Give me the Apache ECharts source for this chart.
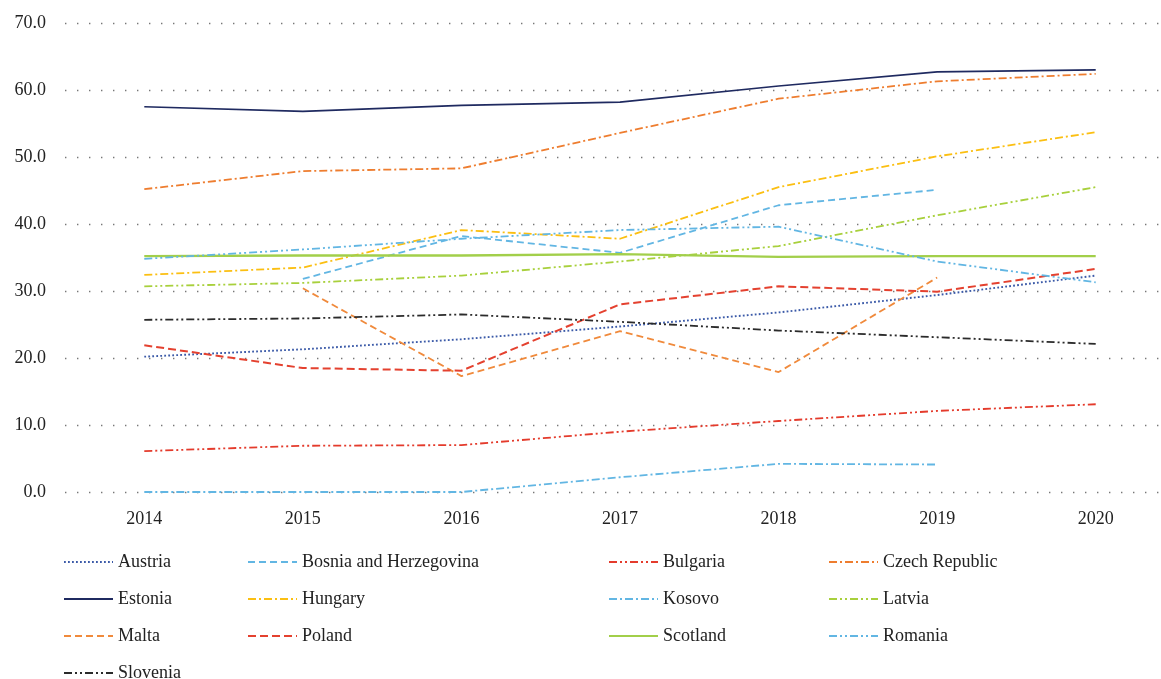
<!DOCTYPE html>
<html>
<head>
<meta charset="utf-8">
<script src="https://cdn.jsdelivr.net/npm/echarts@6/dist/echarts.min.js"></script>
<style>
  html, body { margin: 0; padding: 0; background: #fff; }
  #chart { width: 1161px; height: 679px; }
</style>
</head>
<body>
<div id="chart"></div>
<script>
// years on the x axis
var years = ['2014', '2015', '2016', '2017', '2018', '2019', '2020'];

// values (null = no point that year)
var austria  = [20.2, 21.3, 22.8, 24.7, 26.8, 29.4, 32.3];
var bosnia   = [null, 31.8, 38.2, 35.7, 42.8, 45.1, null];
var bulgaria = [6.1, 6.9, 7.0, 9.0, 10.6, 12.1, 13.1];
var czech    = [45.2, 47.9, 48.3, 53.6, 58.7, 61.3, 62.4];
var estonia  = [57.5, 56.8, 57.7, 58.2, 60.6, 62.7, 63.0];
var hungary  = [32.4, 33.5, 39.1, 37.8, 45.5, 50.1, 53.7];
var kosovo   = [0.0, 0.0, 0.0, 2.2, 4.2, 4.1, null];
var latvia   = [30.7, 31.2, 32.3, 34.4, 36.7, 41.3, 45.5];
var malta    = [null, 30.4, 17.3, 24.0, 17.9, 32.0, null];
var poland   = [21.9, 18.5, 18.1, 28.0, 30.7, 29.9, 33.3];
var scotland = [35.2, 35.3, 35.3, 35.5, 35.1, 35.2, 35.2];
var romania  = [34.8, 36.2, 37.8, 39.1, 39.6, 34.4, 31.3];
var slovenia = [25.7, 25.9, 26.5, 25.4, 24.1, 23.1, 22.1];

var font = 'Liberation Serif';

function line(name, data, color, dash, width) {
    return {
        name: name,
        type: 'line',
        data: data,
        symbol: 'none',
        lineStyle: { color: color, width: width || 1.8, type: dash },
        itemStyle: { color: color }
    };
}

var dot = [1.8, 2.2];
var dashed = [7, 4];
var dashDot = [8, 3, 2, 3];
var dashDotDot = [8, 3, 2, 3, 2, 3];

var series = [
    line('Austria', austria, '#3b5aa8', dot, 1.9),
    line('Bosnia and Herzegovina', bosnia, '#62b6e3', dashed),
    line('Bulgaria', bulgaria, '#e43b2c', dashDotDot),
    line('Czech Republic', czech, '#ee7d2f', dashDot),
    line('Estonia', estonia, '#1f2a60', 'solid', 1.7),
    line('Hungary', hungary, '#fbbf12', dashDot),
    line('Kosovo', kosovo, '#62b6e3', dashDot),
    line('Latvia', latvia, '#a8d03c', dashDotDot),
    line('Malta', malta, '#f08a3c', dashed),
    line('Poland', poland, '#e4412f', [8, 4], 2),
    line('Scotland', scotland, '#a2cf4a', 'solid', 2.3),
    line('Romania', romania, '#62b6e3', dashDotDot),
    line('Slovenia', slovenia, '#2b2b2b', dashDotDot)
];

function legendCol(left, names) {
    return {
        orient: 'vertical',
        left: left,
        top: 553,
        height: 150,
        padding: 0,
        itemWidth: 49,
        itemHeight: 14,
        itemGap: 19,
        data: names,
        itemStyle: { color: 'transparent', borderColor: 'transparent', borderWidth: 0 },
        textStyle: { fontFamily: font, fontSize: 18, color: '#222' }
    };
}

var option = {
    animation: false,
    backgroundColor: '#fff',
    grid: { left: 65, top: 23, width: 1110, bottom: 187, outerBoundsMode: 'none' },
    xAxis: {
        type: 'category',
        data: years,
        boundaryGap: true,
        axisLine: { show: false },
        axisTick: { show: false },
        axisLabel: { fontFamily: font, fontSize: 18, color: '#222', margin: 18 }
    },
    yAxis: {
        type: 'value',
        min: 0,
        max: 70,
        interval: 10,
        axisLine: { show: false },
        axisTick: { show: false },
        axisLabel: {
            fontFamily: font, fontSize: 18, color: '#222', margin: 19,
            formatter: function (v) { return v.toFixed(1); }
        },
        splitLine: { lineStyle: { color: '#777', width: 1.4, type: [1.4, 10.6] } }
    },
    legend: [
        legendCol(63, ['Austria', 'Estonia', 'Malta', 'Slovenia']),
        legendCol(247, ['Bosnia and Herzegovina', 'Hungary', 'Poland']),
        legendCol(608, ['Bulgaria', 'Kosovo', 'Scotland']),
        legendCol(828, ['Czech Republic', 'Latvia', 'Romania'])
    ],
    series: series
};

var chart = echarts.init(document.getElementById('chart'));
chart.setOption(option);
</script>
</body>
</html>
